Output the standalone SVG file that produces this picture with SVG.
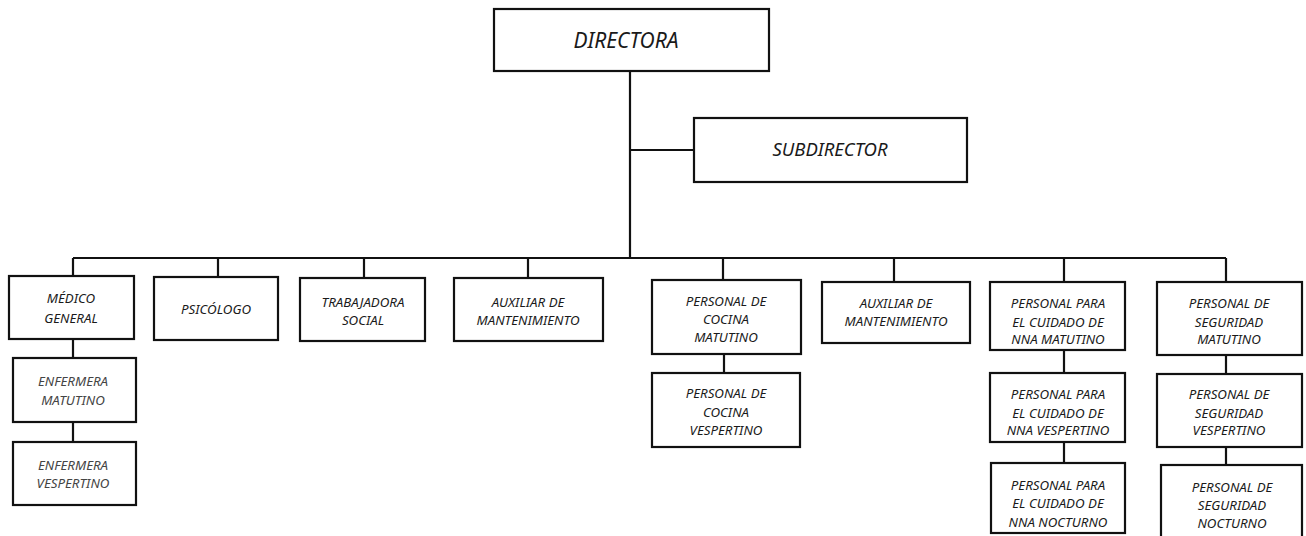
<svg xmlns="http://www.w3.org/2000/svg" width="1306" height="536" viewBox="0 0 1306 536">
<style>
.b{fill:#fff;stroke:#111;stroke-width:2.2}
.c{fill:none;stroke:#111;stroke-width:2.2}
text{font-family:"Noto Sans","Open Sans","DejaVu Sans",sans-serif;font-style:italic;fill:#1a1a1a;text-anchor:middle}
.s{font-size:13.3px}
.l{fill:#444}
</style>
<rect width="1306" height="536" fill="#fff"/>
<g id="connectors">
<path class="c" d="M630 71V258M630 150H694M73 258H1226M73 258V276M218 258V277M364 258V278M528 258V278M723 258V280M894 258V282M1064 258V282M1226 258V282M73 339V358M73 422V442M724 354V373M1064 350V373M1064 442V463M1226 355V374M1226 447V465"/>
</g>
<g id="n-directora"><rect class="b" x="494" y="9" width="275" height="62"/><text x="626" y="48" font-size="21">DIRECTORA</text></g>
<g id="n-subdirector"><rect class="b" x="694" y="118" width="273" height="64"/><text x="830" y="156" font-size="18.5">SUBDIRECTOR</text></g>
<g id="n-medico"><rect class="b" x="9" y="276" width="125" height="63"/><text class="s" x="71" y="303">MÉDICO</text><text class="s" x="71" y="323">GENERAL</text></g>
<g id="n-enf-mat"><rect class="b" x="13" y="358" width="123" height="64"/><text class="s l" x="73" y="386">ENFERMERA</text><text class="s l" x="73" y="405">MATUTINO</text></g>
<g id="n-enf-ves"><rect class="b" x="13" y="442" width="123" height="63"/><text class="s l" x="73" y="470">ENFERMERA</text><text class="s l" x="73" y="488">VESPERTINO</text></g>
<g id="n-psicologo"><rect class="b" x="154" y="277" width="124" height="63"/><text class="s" x="216" y="314">PSICÓLOGO</text></g>
<g id="n-trabajadora"><rect class="b" x="300" y="278" width="125" height="63"/><text class="s" x="363" y="307">TRABAJADORA</text><text class="s" x="363" y="325">SOCIAL</text></g>
<g id="n-aux1"><rect class="b" x="454" y="278" width="149" height="63"/><text class="s" x="528" y="307">AUXILIAR DE</text><text class="s" x="528" y="325">MANTENIMIENTO</text></g>
<g id="n-cocina-mat"><rect class="b" x="652" y="280" width="149" height="74"/><text class="s" x="726" y="306">PERSONAL DE</text><text class="s" x="726" y="324">COCINA</text><text class="s" x="726" y="342">MATUTINO</text></g>
<g id="n-cocina-ves"><rect class="b" x="652" y="373" width="148" height="74"/><text class="s" x="726" y="398">PERSONAL DE</text><text class="s" x="726" y="417">COCINA</text><text class="s" x="726" y="435">VESPERTINO</text></g>
<g id="n-aux2"><rect class="b" x="822" y="282" width="148" height="61"/><text class="s" x="896" y="308">AUXILIAR DE</text><text class="s" x="896" y="326">MANTENIMIENTO</text></g>
<g id="n-nna-mat"><rect class="b" x="990" y="282" width="135" height="68"/><text class="s" x="1058" y="308">PERSONAL PARA</text><text class="s" x="1058" y="327">EL CUIDADO DE</text><text class="s" x="1058" y="344">NNA MATUTINO</text></g>
<g id="n-nna-ves"><rect class="b" x="990" y="373" width="135" height="69"/><text class="s" x="1058" y="399">PERSONAL PARA</text><text class="s" x="1058" y="418">EL CUIDADO DE</text><text class="s" x="1058" y="435">NNA VESPERTINO</text></g>
<g id="n-nna-noc"><rect class="b" x="991" y="463" width="134" height="70"/><text class="s" x="1058" y="490">PERSONAL PARA</text><text class="s" x="1058" y="508">EL CUIDADO DE</text><text class="s" x="1058" y="527">NNA NOCTURNO</text></g>
<g id="n-seg-mat"><rect class="b" x="1157" y="282" width="145" height="73"/><text class="s" x="1229" y="308">PERSONAL DE</text><text class="s" x="1229" y="327">SEGURIDAD</text><text class="s" x="1229" y="344">MATUTINO</text></g>
<g id="n-seg-ves"><rect class="b" x="1157" y="374" width="145" height="73"/><text class="s" x="1229" y="399">PERSONAL DE</text><text class="s" x="1229" y="418">SEGURIDAD</text><text class="s" x="1229" y="435">VESPERTINO</text></g>
<g id="n-seg-noc"><rect class="b" x="1161" y="465" width="141" height="75"/><text class="s" x="1232" y="492">PERSONAL DE</text><text class="s" x="1232" y="510">SEGURIDAD</text><text class="s" x="1232" y="528">NOCTURNO</text></g>
</svg>
